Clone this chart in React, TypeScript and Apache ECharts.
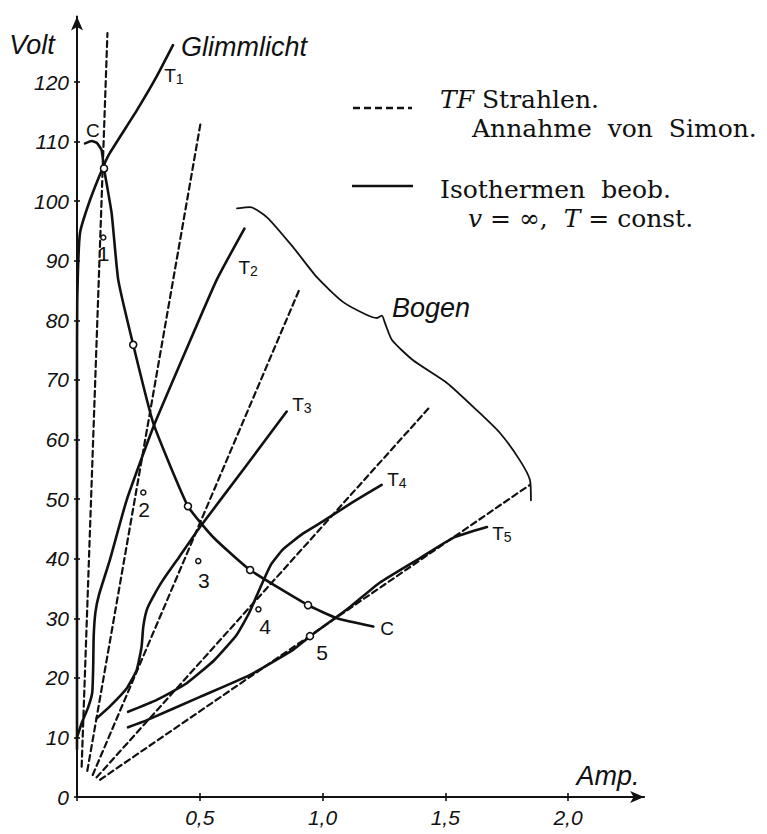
import React, { useEffect, useRef } from 'react';
import * as echarts from 'echarts';

// ---- data (Amp., Volt) ----
const rayT1 = [[0.019, 5.1], [0.124, 128.2]];
const rayT2 = [[0.042, 4.4], [0.505, 113.5]];
const rayT3 = [[0.064, 3.7], [0.908, 85.4]];
const rayT4 = [[0.080, 3.3], [1.438, 65.5]];
const rayT5 = [[0.094, 2.9], [1.845, 52.4]];

const isoT1 = [[0, 8], [0, 40], [0, 70], [0.001, 83.4], [0.012, 94.6], [0.053, 100.2], [0.107, 105.8], [0.134, 108.1], [0.243, 115.2], [0.32, 120.6], [0.391, 126.2]];
const isoT2 = [[0, 10], [0.02, 12.5], [0.045, 15], [0.062, 17.5], [0.066, 22], [0.068, 27], [0.075, 31], [0.09, 34], [0.134, 39.8], [0.202, 49.8], [0.311, 62.1], [0.44, 74.6], [0.569, 86.8], [0.682, 95.4]];
const isoT3 = [[0.080, 13.2], [0.134, 15.2], [0.202, 18.2], [0.243, 21.3], [0.263, 25.2], [0.270, 28.6], [0.285, 31.5], [0.310, 33.6], [0.350, 36.4], [0.420, 40.5], [0.501, 45.3], [0.68, 55.1], [0.854, 64.7]];
const isoT4 = [[0.208, 14.3], [0.325, 16.3], [0.447, 19.1], [0.56, 23.0], [0.65, 27.2], [0.70, 30.8], [0.745, 35.0], [0.79, 39.0], [0.840, 41.6], [0.92, 44.2], [1.003, 46.3], [1.12, 49.4], [1.241, 52.4]];
const isoT5 = [[0.208, 11.7], [0.285, 12.9], [0.501, 16.8], [0.705, 20.5], [0.880, 24.7], [0.957, 27.2], [1.112, 31.9], [1.234, 36.0], [1.397, 40.1], [1.532, 43.5], [1.670, 45.3]];
const curveC = [[0.033, 109.7], [0.06, 110.1], [0.08, 109.8], [0.1, 108.6], [0.110, 105.5], [0.141, 98.0], [0.168, 86.8], [0.229, 75.9], [0.311, 62.7], [0.452, 48.8], [0.555, 43.6], [0.705, 38.1], [0.941, 32.2], [1.059, 30.0], [1.207, 28.6]];
const bogen = [[0.652, 98.8], [0.705, 99.0], [0.774, 97.3], [0.880, 92.3], [0.978, 87.2], [1.083, 83.1], [1.181, 80.9], [1.222, 80.4], [1.242, 80.8], [1.255, 79.5], [1.283, 76.7], [1.369, 73.3], [1.507, 69.5], [1.629, 64.9], [1.723, 61.1], [1.804, 56.5], [1.845, 53.2], [1.849, 49.8]];

const curvePoints = [[0.110, 105.5], [0.229, 75.9], [0.452, 48.8], [0.705, 38.1], [0.941, 32.2], [0.949, 27.0]];
const numberedPoints = [[0.107, 93.9], [0.270, 51.1], [0.494, 39.6], [0.739, 31.5]];
const pointNumbers = ['1', '2', '3', '4', '5'];
const numberAnchors = [[0.108, 91.2], [0.273, 48.2], [0.517, 36.4], [0.766, 28.7], [0.998, 24.2]];

const curveNames = ['{a|T}{b|1}', '{a|T}{b|2}', '{a|T}{b|3}', '{a|T}{b|4}', '{a|T}{b|5}', 'C', 'C'];
const curveNameAnchors = [[0.395, 121.0], [0.697, 88.8], [0.916, 65.8], [1.303, 53.2], [1.731, 44.1], [0.065, 111.8], [1.263, 28.2]];
const bigLabels = ['Volt', 'Glimmlicht', 'Bogen', 'Amp.'];
const bigLabelAnchors = [[-0.183, 126.2], [0.68, 125.9], [1.442, 82.1], [2.163, 3.5]];

const xTicks = [0.5, 1.0, 1.5, 2.0];
const yTicks = [0, 10, 20, 30, 40, 50, 60, 70, 80, 90, 100, 110, 120];

// ---- layout ----
const X0 = 77, Y0 = 797, PXA = 245.5, PXV = 5.958;
const XMAX = 2.31, YMAX = 131;
const xTickMax = xTicks[xTicks.length - 1];
const yTickMax = yTicks[yTicks.length - 1];

const INK = '#111';

export default function App() {
  const ref = useRef<HTMLDivElement>(null);
  useEffect(() => {
    const chart = echarts.init(ref.current!, null, { renderer: 'svg' });
    const g0 = { left: X0, top: Y0 - YMAX * PXV, width: XMAX * PXA, height: YMAX * PXV, outerBoundsMode: 'none' };
    const g1 = { left: X0, top: Y0 - yTickMax * PXV, width: xTickMax * PXA, height: yTickMax * PXV, outerBoundsMode: 'none' };
    const tickFont = { fontFamily: 'Liberation Sans', fontStyle: 'italic', fontSize: 21, color: INK };

    const lineSeries = (data: number[][], opts: any = {}) => ({
      type: 'line', data, xAxisIndex: 0, yAxisIndex: 0, showSymbol: false, symbol: 'none',
      smooth: opts.smooth ?? 0.15, clip: false, silent: true,
      lineStyle: { color: INK, width: opts.width ?? 2.6, type: opts.dash ? [6, 4] : 'solid', cap: 'round', join: 'round' },
      z: opts.z ?? 3,
    });

    const annot = (names: string[], anchors: number[][], style: any) => ({
      type: 'scatter', xAxisIndex: 0, yAxisIndex: 0, symbolSize: 0, clip: false, z: 6, silent: true,
      itemStyle: { color: INK, opacity: 1 },
      data: anchors.map((p, i) => ({ value: p, name: names[i] })),
      label: { show: true, position: 'inside', opacity: 1, formatter: (p: any) => p.name, color: INK, textBorderWidth: 0, textBorderColor: 'transparent', ...style },
    });

    chart.setOption({
      animation: false,
      backgroundColor: '#fff',
      grid: [g0, g1, { ...g1 }],
      xAxis: [
        { gridIndex: 0, type: 'value', min: 0, max: XMAX, axisLine: { show: true, lineStyle: { color: INK, width: 2 }, symbol: ['none', 'arrow'], symbolSize: [9, 14] }, axisTick: { show: false }, axisLabel: { show: false }, splitLine: { show: false } },
        { gridIndex: 1, type: 'value', min: 0, max: xTickMax, interval: 0.5, axisLine: { show: false }, axisTick: { show: true, length: 4, lineStyle: { color: INK, width: 1.6 } }, axisLabel: { ...tickFont, margin: 10, formatter: (v: number) => (v === 0 ? '' : v.toFixed(1).replace('.', ',')) }, splitLine: { show: false } },
        { gridIndex: 2, type: 'value', min: 0, max: xTickMax, interval: 0.5, axisLine: { show: false }, axisTick: { show: true, inside: true, length: 4, lineStyle: { color: INK, width: 1.6 } }, axisLabel: { show: false }, splitLine: { show: false } },
      ],
      yAxis: [
        { gridIndex: 0, type: 'value', min: 0, max: YMAX, axisLine: { show: true, lineStyle: { color: INK, width: 2 }, symbol: ['none', 'arrow'], symbolSize: [9, 14] }, axisTick: { show: false }, axisLabel: { show: false }, splitLine: { show: false } },
        { gridIndex: 1, type: 'value', min: 0, max: yTickMax, interval: 10, axisLine: { show: false }, axisTick: { show: true, length: 3, lineStyle: { color: INK, width: 1.6 } }, axisLabel: { ...tickFont, margin: 8, formatter: (v: number) => String(v) }, splitLine: { show: false } },
        { gridIndex: 2, type: 'value', min: 0, max: yTickMax, interval: 10, axisLine: { show: false }, axisTick: { show: true, inside: true, length: 3, lineStyle: { color: INK, width: 1.6 } }, axisLabel: { show: false }, splitLine: { show: false } },
      ],
      series: [
        lineSeries(rayT1, { dash: true, smooth: false, width: 2.2 }),
        lineSeries(rayT2, { dash: true, smooth: false, width: 2.2 }),
        lineSeries(rayT3, { dash: true, smooth: false, width: 2.2 }),
        lineSeries(rayT4, { dash: true, smooth: false, width: 2.2 }),
        lineSeries(rayT5, { dash: true, smooth: false, width: 2.2 }),
        lineSeries(isoT1),
        lineSeries(isoT2),
        lineSeries(isoT3),
        lineSeries(isoT4),
        lineSeries(isoT5),
        lineSeries(curveC),
        lineSeries(bogen, { width: 1.8, smooth: 0.2 }),
        {
          type: 'scatter', xAxisIndex: 0, yAxisIndex: 0, data: curvePoints, symbol: 'circle', symbolSize: 7, z: 5, silent: true,
          itemStyle: { color: '#fff', borderColor: INK, borderWidth: 1.6, opacity: 1 },
        },
        {
          type: 'scatter', xAxisIndex: 0, yAxisIndex: 0, data: numberedPoints, symbol: 'circle', symbolSize: 5, z: 5, silent: true,
          itemStyle: { color: '#fff', borderColor: INK, borderWidth: 1.5, opacity: 1 },
        },
        annot(pointNumbers, numberAnchors, { fontFamily: 'Liberation Sans', fontSize: 21 }),
        annot(curveNames, curveNameAnchors, {
          fontFamily: 'Liberation Sans', fontSize: 19,
          rich: {
            a: { fontFamily: 'Liberation Sans', fontSize: 19, lineHeight: 20, verticalAlign: 'top', color: INK },
            b: { fontFamily: 'Liberation Sans', fontSize: 14, lineHeight: 14, padding: [9, 0, 0, 0], verticalAlign: 'bottom', color: INK },
          },
        }),
        annot(bigLabels, bigLabelAnchors, { fontFamily: 'Liberation Sans', fontStyle: 'italic', fontSize: 27 }),
      ],
      graphic: [
        { type: 'line', shape: { x1: 353, y1: 108, x2: 412, y2: 108 }, style: { stroke: INK, lineWidth: 2.5, lineDash: [7, 4] } },
        { type: 'line', shape: { x1: 352, y1: 186, x2: 413, y2: 186 }, style: { stroke: INK, lineWidth: 2.5 } },
        { type: 'text', x: 440, y: 99, style: { text: '{i|TF} Strahlen.', fontFamily: 'DejaVu Serif', fontSize: 25, fill: INK, verticalAlign: 'middle', rich: { i: { fontFamily: 'DejaVu Serif', fontStyle: 'italic', fontSize: 25, fill: INK } } } },
        { type: 'text', x: 472, y: 128, style: { text: 'Annahme  von  Simon.', fontFamily: 'DejaVu Serif', fontSize: 25, fill: INK, verticalAlign: 'middle' } },
        { type: 'text', x: 440, y: 189, style: { text: 'Isothermen  beob.', fontFamily: 'DejaVu Serif', fontSize: 25, fill: INK, verticalAlign: 'middle' } },
        { type: 'text', x: 468, y: 218, style: { text: '{i|v} = ∞,  {i|T} = const.', fontFamily: 'DejaVu Serif', fontSize: 25, fill: INK, verticalAlign: 'middle', rich: { i: { fontFamily: 'DejaVu Serif', fontStyle: 'italic', fontSize: 25, fill: INK } } } },
      ],
    });
    return () => chart.dispose();
  }, []);
  return <div ref={ref} style={{ position: 'fixed', left: 0, top: 0, width: 767, height: 834, background: '#fff' }} />;
}
